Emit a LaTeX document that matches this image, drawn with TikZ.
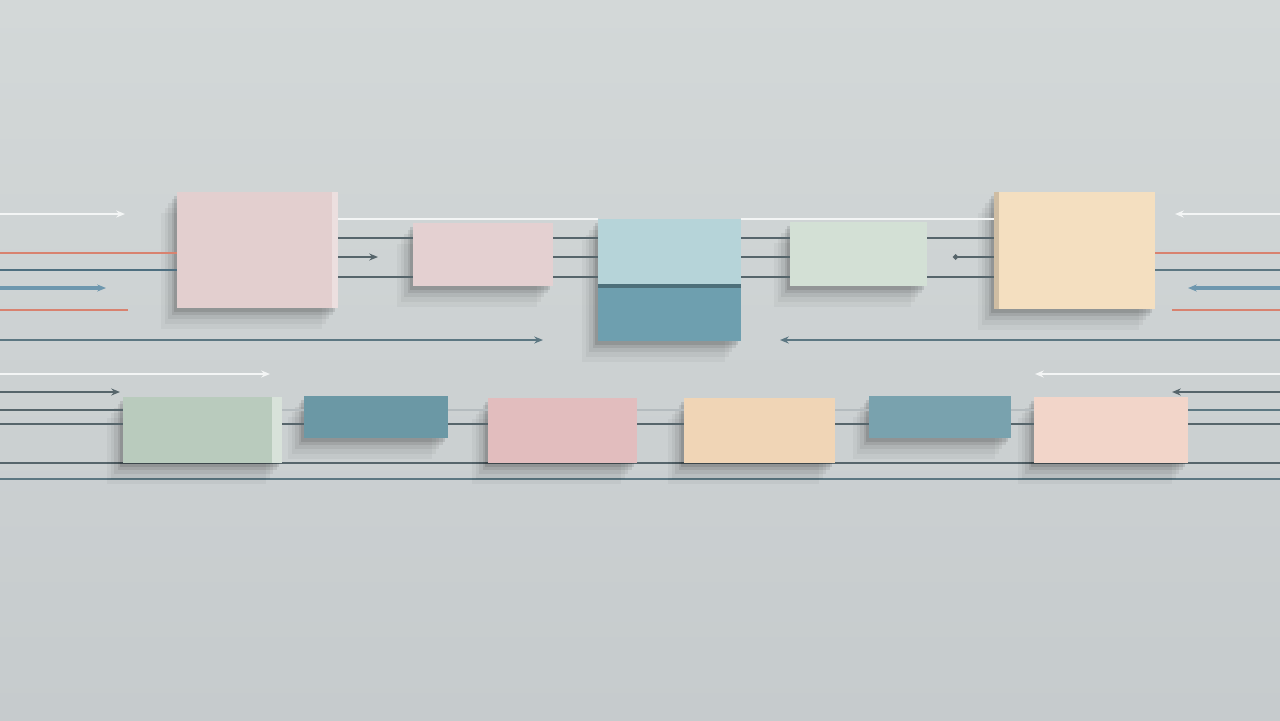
\documentclass[tikz,border=0pt]{standalone}
\usepackage{tikz}
\usepackage{xcolor}
\usetikzlibrary{shapes, positioning, arrows.meta, shadows}

\definecolor{walltop}{HTML}{D3D8D8}
\definecolor{wallbot}{HTML}{C6CBCD}
\definecolor{rosea}{HTML}{E3CFCF}
\definecolor{roseb}{HTML}{E4D0D1}
\definecolor{rosec}{HTML}{E2BDBE}
\definecolor{icetop}{HTML}{B6D4D9}
\definecolor{icebot}{HTML}{6E9FAF}
\definecolor{mintlt}{HTML}{D3E0D5}
\definecolor{mintdk}{HTML}{B9CBBD}
\definecolor{sandlt}{HTML}{F4DFC0}
\definecolor{peach}{HTML}{F0D5B6}
\definecolor{blush}{HTML}{F2D5C9}
\definecolor{tealdk}{HTML}{6B98A5}
\definecolor{tealmd}{HTML}{79A2AE}
\definecolor{wirewhite}{HTML}{F3F5F5}
\definecolor{wirecoral}{HTML}{D8826F}
\definecolor{wirenavy}{HTML}{4E6F80}
\definecolor{wireblue}{HTML}{6E97AE}
\definecolor{wireslate}{HTML}{5C7782}
\definecolor{wiregrey}{HTML}{56656B}

\tikzset{
  blk/.style 2 args={rectangle, inner sep=0pt, minimum width=#1*0.02cm,
    minimum height=#2*0.02cm,
    drop shadow={shadow xshift=-9pt, shadow yshift=-12pt, fill=black, opacity=0.035},
    drop shadow={shadow xshift=-7pt, shadow yshift=-9pt, fill=black, opacity=0.045},
    drop shadow={shadow xshift=-5pt, shadow yshift=-6.5pt, fill=black, opacity=0.06},
    drop shadow={shadow xshift=-3pt, shadow yshift=-4pt, fill=black, opacity=0.08},
    drop shadow={shadow xshift=-1.5pt, shadow yshift=-2pt, fill=black, opacity=0.1}},
  wire/.style={draw=#1, line width=1.1pt},
  feed/.style={draw=#1, line width=1.1pt, -{Stealth[length=5pt,width=4pt]}},
}

\begin{document}
\begin{tikzpicture}[x=0.02cm, y=-0.02cm]
  \clip (0,0) rectangle (1280,720);
  \shade[top color=walltop, bottom color=wallbot] (0,0) rectangle (1280,720);

  % free ends at the walls
  \coordinate (L1) at (0,214);   \coordinate (L1e) at (125,214);
  \coordinate (L2) at (0,253);
  \coordinate (L3) at (0,270);
  \coordinate (L4) at (0,288);   \coordinate (L4e) at (106,288);
  \coordinate (L5) at (0,310);   \coordinate (L5e) at (128,310);
  \coordinate (L6) at (0,340);   \coordinate (L6e) at (543,340);
  \coordinate (R1) at (1280,214); \coordinate (R1e) at (1175,214);
  \coordinate (R2) at (1280,253);
  \coordinate (R3) at (1280,270);
  \coordinate (R4) at (1280,288); \coordinate (R4e) at (1188,288);
  \coordinate (R5) at (1280,310); \coordinate (R5s) at (1172,310);
  \coordinate (R6) at (1280,340); \coordinate (R6e) at (780,340);
  \coordinate (t1) at (0,219);
  \coordinate (t2) at (0,238);
  \coordinate (t3) at (0,257);   \coordinate (t3a) at (378,257); \coordinate (t3b) at (953,257);
  \coordinate (t4) at (0,277);
  \coordinate (M1) at (0,374);   \coordinate (M1e) at (270,374);
  \coordinate (M2) at (0,392);   \coordinate (M2e) at (120,392);
  \coordinate (N1) at (1280,374); \coordinate (N1e) at (1035,374);
  \coordinate (N2) at (1280,392); \coordinate (N2e) at (1172,392);
  \coordinate (b1) at (0,410);   \coordinate (b1r) at (1280,410);
  \coordinate (b2) at (0,424);   \coordinate (b2r) at (1280,424);
  \coordinate (g1) at (0,463);   \coordinate (g1r) at (1280,463);
  \coordinate (g2) at (0,479);   \coordinate (g2r) at (1280,479);

  % rails behind the lower row
  \draw[wire=wiregrey, line width=0.8pt] (g1) -- (g1r);
  \draw[wire=wireslate, line width=1.3pt] (g2) -- (g2r);

  % upper row
  \node[blk={161}{116}, fill=rosea] (A) at (257.5,250) {};
  \node[blk={140}{63}, fill=roseb] (B) at (483,254.5) {};
  \node[blk={143}{65}, fill=icetop] (C) at (669.5,251.5) {};
  \node[blk={143}{57}, fill=icebot] (Cb) at (669.5,312.5) {};
  \node[blk={137}{64}, fill=mintlt] (D) at (858.5,254) {};
  \node[blk={161}{117}, fill=sandlt] (E) at (1074.5,250.5) {};

  % lower row
  \node[blk={159}{66}, fill=mintdk] (F) at (202.5,430) {};
  \node[blk={144}{42}, fill=tealdk] (G) at (376,417) {};
  \node[blk={149}{65}, fill=rosec] (H) at (562.5,430.5) {};
  \node[blk={151}{65}, fill=peach] (I) at (759.5,430.5) {};
  \node[blk={142}{42}, fill=tealmd] (J) at (940,417) {};
  \node[blk={154}{66}, fill=blush] (K) at (1111,430) {};

  % edge highlights
  \fill[white, opacity=0.35] (A.north east) rectangle ([xshift=-0.12cm]A.south east);
  \fill[white, opacity=0.45] (F.north east) rectangle ([xshift=-0.2cm]F.south east);
  \fill[black!30!icebot] (Cb.north west) rectangle ([yshift=-0.08cm]Cb.north east);
  \fill[black!15!sandlt] (E.north west) rectangle ([xshift=0.1cm]E.south west);

  % left feeds
  \draw[feed=wirewhite] (L1) -- (L1e);
  \draw[wire=wirecoral] (L2) -- (A.west |- L2);
  \draw[wire=wirenavy] (L3) -- (A.west |- L3);
  \draw[feed=wireblue, line width=1.8pt] (L4) -- (L4e);
  \draw[wire=wirecoral] (L5) -- (L5e);
  \draw[feed=wireslate] (L6) -- (L6e);

  % right feeds
  \draw[feed=wirewhite] (R1) -- (R1e);
  \draw[wire=wirecoral] (E.east |- R2) -- (R2);
  \draw[wire=wireslate] (E.east |- R3) -- (R3);
  \draw[feed=wireblue, line width=1.8pt] (R4) -- (R4e);
  \draw[wire=wirecoral] (R5s) -- (R5);
  \draw[feed=wireslate] (R6) -- (R6e);

  % links in the upper row
  \draw[wire=wirewhite] (A.east |- t1) -- (C.west |- t1);
  \draw[wire=wirewhite] (C.east |- t1) -- (E.west |- t1);
  \draw[wire=wiregrey] (A.east |- t2) -- (B.west |- t2);
  \draw[wire=wiregrey] (B.east |- t2) -- (C.west |- t2);
  \draw[wire=wiregrey] (C.east |- t2) -- (D.west |- t2);
  \draw[wire=wiregrey] (D.east |- t2) -- (E.west |- t2);
  \draw[feed=wiregrey, line width=0.9pt] (A.east |- t3) -- (t3a);
  \draw[wire=wiregrey] (B.east |- t3) -- (C.west |- t3);
  \draw[wire=wiregrey] (C.east |- t3) -- (D.west |- t3);
  \draw[wire=wiregrey, {Circle[length=3pt]}-] (t3b) -- (E.west |- t3);
  \draw[wire=wiregrey] (A.east |- t4) -- (B.west |- t4);
  \draw[wire=wiregrey] (B.east |- t4) -- (C.west |- t4);
  \draw[wire=wiregrey] (C.east |- t4) -- (D.west |- t4);
  \draw[wire=wiregrey] (D.east |- t4) -- (E.west |- t4);

  % links in the lower row
  \draw[feed=wirewhite] (M1) -- (M1e);
  \draw[feed=wiregrey] (M2) -- (M2e);
  \draw[feed=wirewhite] (N1) -- (N1e);
  \draw[feed=wiregrey] (N2) -- (N2e);
  \draw[wire=wiregrey] (b1) -- (F.west |- b1);
  \draw[wire=wiregrey] (b2) -- (F.west |- b2);
  \foreach \u/\v in {F/G, G/H, H/I, I/J, J/K} {
    \draw[wire=wirewhite!60!wiregrey] (\u.east |- b1) -- (\v.west |- b1);
    \draw[wire=wiregrey] (\u.east |- b2) -- (\v.west |- b2);
  }
  \draw[wire=wireslate] (K.east |- b1) -- (b1r);
  \draw[wire=wiregrey] (K.east |- b2) -- (b2r);
\end{tikzpicture}
\end{document}
